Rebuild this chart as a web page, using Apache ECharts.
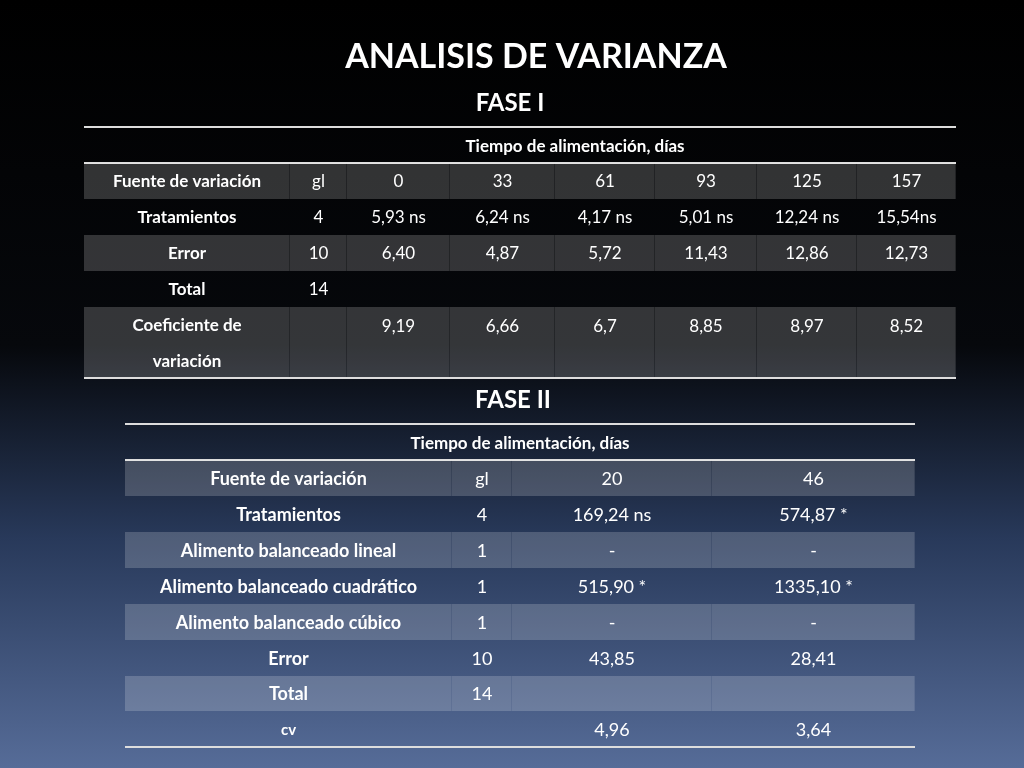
<!DOCTYPE html>
<html><head><meta charset="utf-8">
<script src="https://cdn.jsdelivr.net/npm/echarts@6/dist/echarts.min.js"></script>
<style>html,body{margin:0;padding:0;background:#000}#c{width:1024px;height:768px}</style>
</head><body><div id="c"></div>
<script>
// ---- data ----
const title = "ANALISIS DE VARIANZA";
const phase1Title = "FASE I";
const phase2Title = "FASE II";
const spanHeader = "Tiempo de alimentación, días";
const t1Header = ["Fuente de variación", "gl", "0", "33", "61", "93", "125", "157"];
const t1Rows = [
  ["Tratamientos", "4", "5,93 ns", "6,24 ns", "4,17 ns", "5,01 ns", "12,24 ns", "15,54ns"],
  ["Error", "10", "6,40", "4,87", "5,72", "11,43", "12,86", "12,73"],
  ["Total", "14", "", "", "", "", "", ""],
  ["Coeficiente de\nvariación", "", "9,19", "6,66", "6,7", "8,85", "8,97", "8,52"]
];
const t2Header = ["Fuente de variación", "gl", "20", "46"];
const t2Rows = [
  ["Tratamientos", "4", "169,24 ns", "574,87 *"],
  ["Alimento balanceado lineal", "1", "-", "-"],
  ["Alimento balanceado cuadrático", "1", "515,90 *", "1335,10 *"],
  ["Alimento balanceado cúbico", "1", "-", "-"],
  ["Error", "10", "43,85", "28,41"],
  ["Total", "14", "", ""],
  ["cv", "", "4,96", "3,64"]
];

// ---- layout ----
const FONT = "Lato";
const t1 = {x0: 84, x1: 956, top: 127, cols: [84, 290, 347, 450, 555, 655, 757, 857, 956], rowH: [36, 36, 36, 36, 36, 71], spanX: 575, fs: 17};
const t2 = {x0: 125, x1: 915, top: 424, cols: [125, 452, 512, 712, 915], rowH: [36, 36, 36, 36, 36, 36, 36, 35, 36], spanX: 520, fs: 18};
const shade = 'rgba(255,255,255,0.19)';
const sep = 'rgba(255,255,255,0.12)';

const els = [];
function txt(x, y, s, size, bold, align) {
  els.push({type: 'text', x: x, y: y, style: {text: s, fill: '#fff', font: (bold ? 'bold ' : '') + size + 'px ' + FONT, align: align || 'center', verticalAlign: 'middle', lineHeight: 36}});
}
function table(t, header, rows, shadedRows) {
  let y = t.top;
  els.push({type: 'rect', shape: {x: t.x0, y: y - 1, width: t.x1 - t.x0, height: 2}, style: {fill: '#ddd'}});
  txt(t.spanX, y + t.rowH[0] / 2 + 2, spanHeader, 17, true);
  y += t.rowH[0];
  els.push({type: 'rect', shape: {x: t.x0, y: y - 1, width: t.x1 - t.x0, height: 2}, style: {fill: '#ddd'}});
  const all = [header].concat(rows);
  all.forEach((r, i) => {
    const h = t.rowH[i + 1];
    if (shadedRows.indexOf(i) >= 0) {
      for (let c = 0; c < t.cols.length - 1; c++) {
        els.push({type: 'rect', shape: {x: t.cols[c], y: y, width: t.cols[c + 1] - t.cols[c] - 1, height: h}, style: {fill: shade}});
        els.push({type: 'rect', shape: {x: t.cols[c + 1] - 1, y: y, width: 1, height: h}, style: {fill: sep}});
      }
    }
    r.forEach((v, c) => {
      if (v === '') return;
      const cx = (t.cols[c] + t.cols[c + 1]) / 2;
      const cy = (r[0].indexOf('\n') >= 0 && c > 0) ? y + 20 : y + h / 2 + 1;
      txt(cx, cy, v, (c === 0 && v === 'cv') ? 15 : t.fs, c === 0, 'center');
    });
    y += h;
  });
  els.push({type: 'rect', shape: {x: t.x0, y: y - 1, width: t.x1 - t.x0, height: 2}, style: {fill: '#ddd'}});
}
txt(536, 57, title, 34, true);
txt(510, 103, phase1Title, 24, true);
table(t1, t1Header, t1Rows, [0, 2, 4]);
txt(513, 400, phase2Title, 24, true);
table(t2, t2Header, t2Rows, [0, 2, 4, 6]);

const chart = echarts.init(document.getElementById('c'));
chart.setOption({
  backgroundColor: {type: 'linear', x: 0, y: 0, x2: 0, y2: 1, colorStops: [
    {offset: 0, color: '#000000'}, {offset: 0.45, color: '#06080c'}, {offset: 0.7, color: '#28395a'}, {offset: 1, color: '#566c98'}]},
  graphic: els
});
</script></body></html>
